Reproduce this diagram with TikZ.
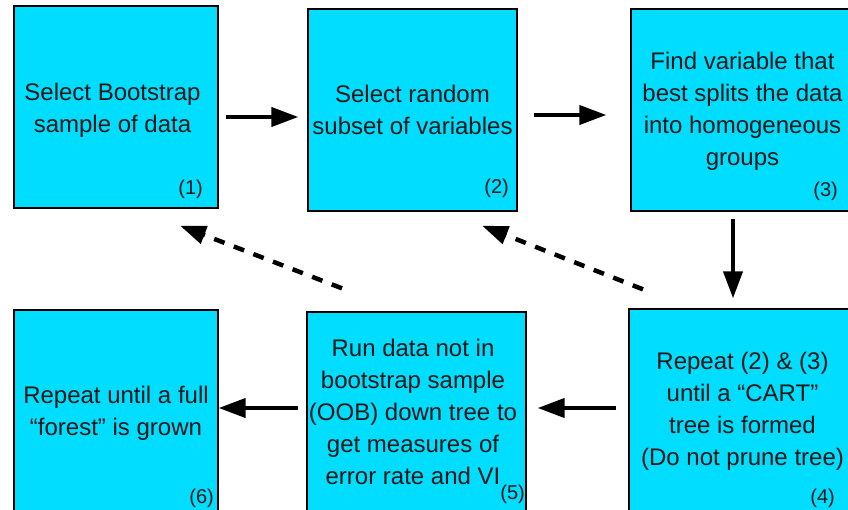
\documentclass[tikz,border=0pt]{standalone}
\usepackage{fontspec}
\setmainfont{Liberation Sans}
\usetikzlibrary{arrows.meta}
\definecolor{boxcyan}{RGB}{0,221,255}
\definecolor{inkgray}{RGB}{24,24,24}
% stacked, centred lines whose baseline is that of the first line
\newcommand\boxlines[1]{\begin{tabular}[t]{@{}c@{}}#1\end{tabular}}
\begin{document}
\begin{tikzpicture}[x=1pt,y=-1pt,
  stepbox/.style={draw=black, line width=1.3pt, fill=boxcyan, inner sep=0pt},
  steptext/.style={anchor=base, inner sep=0pt, text=inkgray,
    font=\fontsize{24}{32}\selectfont},
  numlabel/.style={anchor=base east, inner sep=0pt, text=inkgray,
    font=\fontsize{20}{24}\selectfont},
  flowarrow/.style={line width=4pt, -{Triangle[length=27pt,width=19pt]}},
  looparrow/.style={line width=4.5pt, dash pattern=on 11pt off 10pt,
    -{Triangle[length=26pt,width=18pt]}}]
\useasboundingbox (0,0) rectangle (848,510);
\clip (0,0) rectangle (848,510);

% the six steps
\node[stepbox, minimum width=204pt, minimum height=202pt] (b1) at (116,107) {};
\node[stepbox, minimum width=209pt, minimum height=202pt] (b2) at (412.5,110) {};
\node[stepbox, minimum width=223pt, minimum height=202pt] (b3) at (742.5,110) {};
\node[stepbox, minimum width=227pt, minimum height=211pt] (b4) at (742.5,414.5) {};
\node[stepbox, minimum width=219pt, minimum height=208pt] (b5) at (416.5,416) {};
\node[stepbox, minimum width=204pt, minimum height=210pt] (b6) at (116,415) {};

% step descriptions
\node[steptext] (t1) at (112.5,101) {\boxlines{Select Bootstrap\\sample of data}};
\node[steptext] (t2) at (412.5,103) {\boxlines{Select random\\subset of variables}};
\node[steptext] (t3) at (742.5,69.5) {\boxlines{Find variable that\\best splits the data\\into homogeneous\\groups}};
\node[steptext] (t4) at (742.5,369.5) {\boxlines{Repeat (2) \& (3)\\until a “CART”\\tree is formed\\(Do not prune tree)}};
\node[steptext] (t5) at (413,356) {\boxlines{Run data not in\\bootstrap sample\\(OOB) down tree to\\get measures of\\error rate and VI}};
\node[steptext] (t6) at (116,403) {\boxlines{Repeat until a full\\“forest” is grown}};

% step numbers
\node[numlabel] (n1) at (203,195) {(1)};
\node[numlabel] (n2) at (509,194) {(2)};
\node[numlabel] (n3) at (838,197) {(3)};
\node[numlabel] (n4) at (835,503) {(4)};
\node[numlabel] (n5) at (525,499) {(5)};
\node[numlabel] (n6) at (214,503) {(6)};

% main flow
\draw[flowarrow] ([shift={(7,10)}]b1.east) -- ([shift={(-9,7)}]b2.west);
\draw[flowarrow] ([shift={(16,5)}]b2.east) -- ([shift={(-24,5)}]b3.west);
\draw[flowarrow] ([shift={(-9.5,7)}]b3.south) -- ([shift={(-9.5,-10)}]b4.north);
\draw[flowarrow] ([shift={(-12,-6.5)}]b4.west) -- ([shift={(11,-8)}]b5.east);
\draw[flowarrow] ([shift={(-8,-8)}]b5.west) -- ([shift={(0,-7)}]b6.east);

% repetition loops
\draw[looparrow] ([shift={(-74.5,-23)}]b5.north) -- ([shift={(64,17)}]b1.south);
\draw[looparrow] ([shift={(-99.5,-19)}]b4.north) -- ([shift={(69.5,14)}]b2.south);
\end{tikzpicture}
\end{document}
